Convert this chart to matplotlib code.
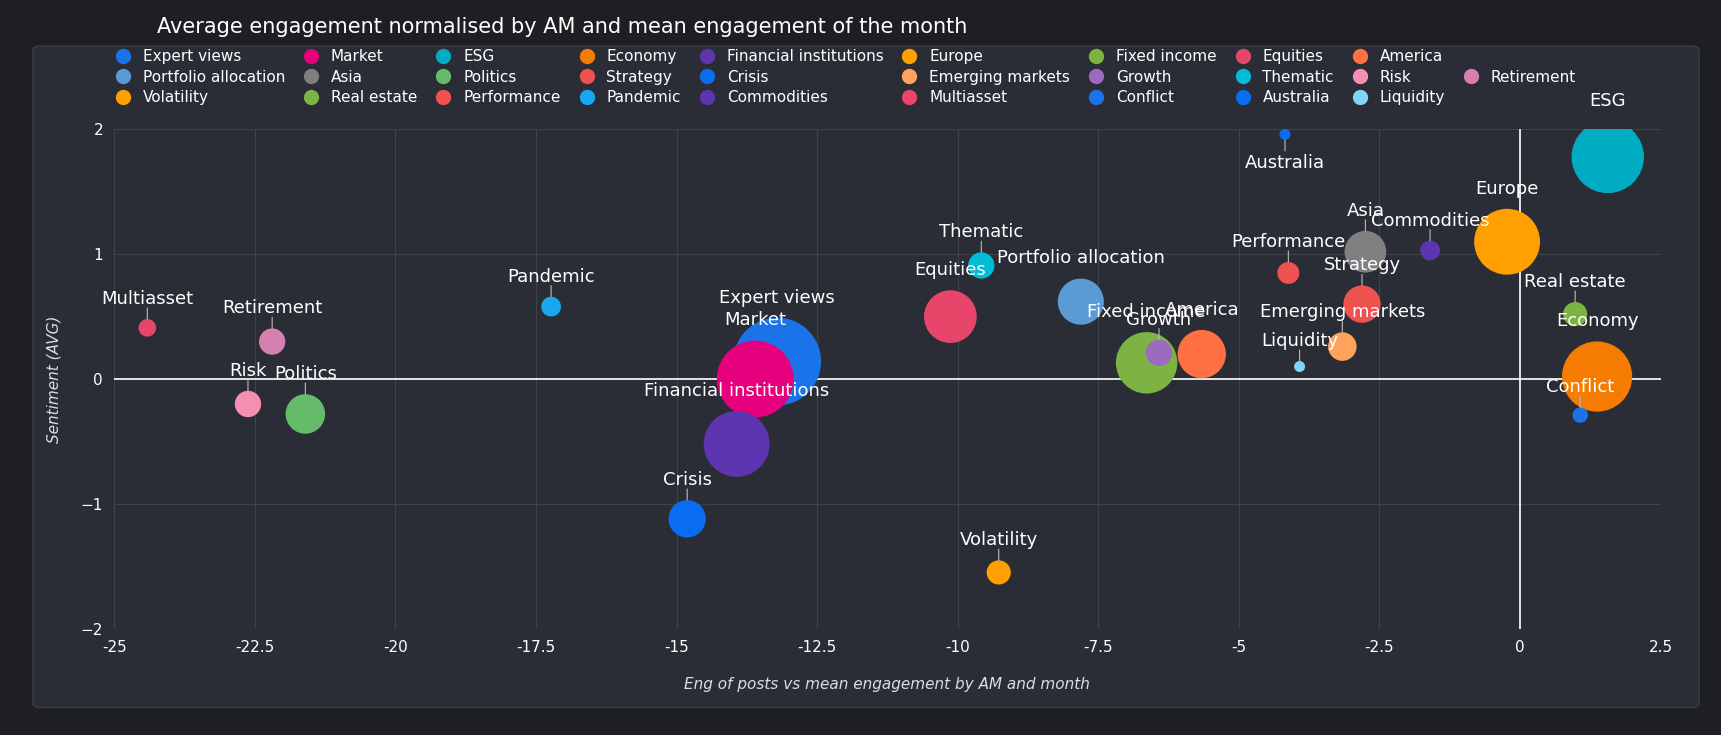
import matplotlib
matplotlib.use("Agg")
import matplotlib.pyplot as plt
from matplotlib.patches import FancyBboxPatch
from matplotlib.lines import Line2D

names = ["Expert views","Market","ESG","Economy","Financial institutions","Europe","Fixed income","Equities","America",
         "Portfolio allocation","Asia","Politics","Strategy","Crisis","Emerging markets","Growth","Thematic","Risk","Retirement",
         "Volatility","Real estate","Performance","Pandemic","Commodities","Multiasset","Conflict","Australia","Liquidity"]
xs = [-13.21,-13.6,1.56,1.37,-13.93,-0.23,-6.64,-10.13,-5.66,-7.81,-2.75,-21.6,-2.81,-14.81,-3.16,-6.42,-9.58,-22.62,-22.19,
      -9.27,0.98,-4.12,-17.23,-1.6,-24.41,1.07,-4.18,-3.92]
ys = [0.14,0.0,1.78,0.02,-0.52,1.10,0.13,0.50,0.20,0.62,1.02,-0.28,0.60,-1.12,0.26,0.21,0.91,-0.20,0.30,
      -1.55,0.52,0.85,0.58,1.03,0.41,-0.29,1.96,0.10]
radius = [40,35,33,32,30,30,28,24,22,21,19,18,17,17,13,12,12,12,12,11,11,10,9,9,8,7,5,5]
colors = ["#1a73e8","#e6007e","#00acc1","#f57c00","#5e35b1","#ffa000","#7cb342","#e8456b","#ff7043",
          "#5b9bd5","#7f7f7f","#66bb6a","#ef5350","#0a6cf0","#ffa35c","#9c6bbf","#00bcd4","#f48fb1","#d580b0",
          "#ffa000","#7cb342","#ef5350","#18a8f0","#5e35b1","#e8456b","#1a73e8","#0a6cf0","#81d4fa"]
xticks = [-25,-22.5,-20,-17.5,-15,-12.5,-10,-7.5,-5,-2.5,0,2.5]
yticks = [-2,-1,0,1,2]

W, H = 1568, 670   # layout frame
K = 1721/1568
fig = plt.figure(figsize=(17.21, 7.35), dpi=100)
fig.patch.set_facecolor("#1e1f22")
panel = FancyBboxPatch((30/W, (H-645)/H), 1518/W, 603/H, boxstyle="round,pad=0,rounding_size=0.005",
                       transform=fig.transFigure, facecolor="#2a2d35", edgecolor="#3a3d45", lw=1, zorder=-10)
fig.patches.append(panel)
fig.text(143/W, 1-25/H, "Average engagement normalised by AM and mean engagement of the month",
         color="white", fontsize=15, va="center", ha="left")

ax = fig.add_axes([104/W, (H-573)/H, 1409/W, 455/H])
ax.set_zorder(1)
ax.set_facecolor("none")
ax.set_xlim(-25, 2.5); ax.set_ylim(-2, 2)
ax.set_xticks(xticks); ax.set_xticklabels([f"{t:g}" for t in xticks])
ax.set_yticks(yticks)
ax.grid(True, color="#3e424b", lw=0.8)
ax.set_axisbelow(True)
for s in ax.spines.values(): s.set_visible(False)
ax.tick_params(colors="white", labelsize=11, length=0, pad=8)
ax.axhline(0, color="white", lw=1.2, zorder=1)
ax.axvline(0, color="white", lw=1.2, zorder=1)
ax.set_xlabel("Eng of posts vs mean engagement by AM and month", color="#dddddd", fontstyle="italic", fontsize=11, labelpad=16)
ax.set_ylabel("Sentiment (AVG)", color="#dddddd", fontstyle="italic", fontsize=11, labelpad=14)

for n, x, y, r, c in zip(names, xs, ys, radius, colors):
    pr = r*K*0.72
    ax.scatter([x], [y], s=(2*pr)**2, color=c, zorder=3, edgecolors="none")
    if n == "Australia":
        ax.annotate(n, (x, y), xytext=(0, -pr-10), textcoords="offset points", ha="center", va="top",
                    color="white", fontsize=13, zorder=4,
                    arrowprops=dict(arrowstyle="-", color="#bbbbbb", lw=0.8, shrinkA=0, shrinkB=pr))
    else:
        ax.annotate(n, (x, y), xytext=(0, pr+8), textcoords="offset points", ha="center", va="bottom",
                    color="white", fontsize=13, zorder=4)
        if r < 20:
            ax.annotate("", (x, y), xytext=(0, pr+8), textcoords="offset points",
                        arrowprops=dict(arrowstyle="-", color="#bbbbbb", lw=0.8, shrinkA=0, shrinkB=pr))

handles = [Line2D([], [], marker="o", ls="", color=c, markersize=10) for c in colors]
rows = [list(range(0, 9)), list(range(9, 19)), list(range(19, 28))]
order = []
for col in range(10):
    for rw in rows:
        order.append(rw[col] if col < len(rw) else None)
h2 = [handles[i] if i is not None else Line2D([], [], ls="", marker="") for i in order]
l2 = [names[i] if i is not None else "" for i in order]
fig.legend(h2, l2, ncol=10, loc="upper left", bbox_to_anchor=(105/W, 1-45/H), frameon=False,
           fontsize=11, labelcolor="white", handletextpad=0.8, columnspacing=1.2, labelspacing=0.35,
           handlelength=1.0, borderaxespad=0, borderpad=0)
fig.savefig("out.png", dpi=100, facecolor=fig.get_facecolor())
